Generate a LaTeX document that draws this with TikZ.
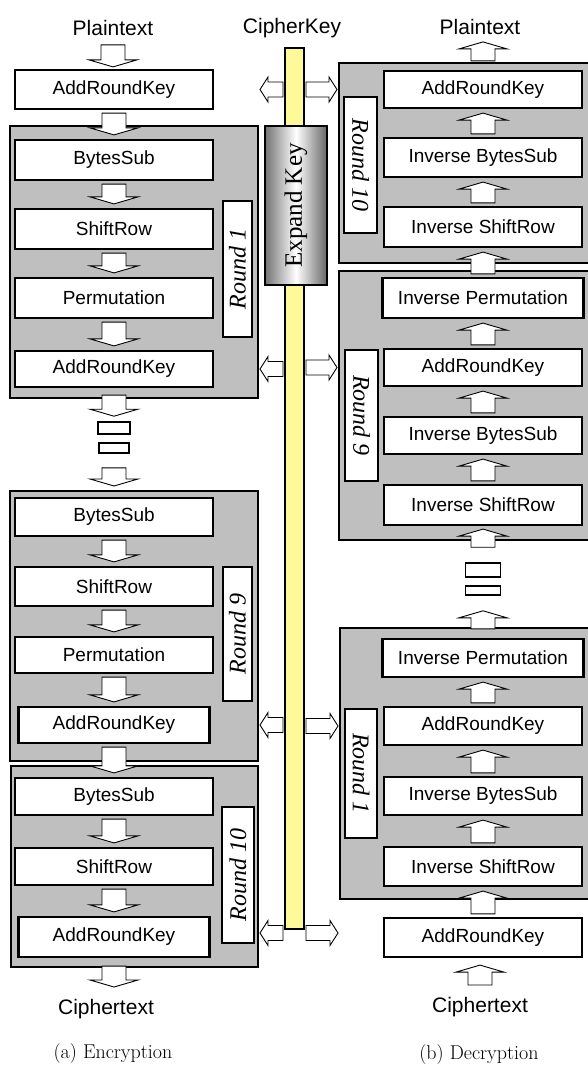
\documentclass[tikz,border=0pt]{standalone}
\usepackage{fontspec}
\setsansfont{Liberation Sans}
\newfontfamily\timesfont{Liberation Serif}
\usepackage{tikz}
\usetikzlibrary{positioning,calc}

\tikzset{
	stepbox/.style={draw, fill=white, line width=2.2pt, inner sep=0pt,
		minimum width=198pt, font=\sffamily\fontsize{19}{22}\selectfont},
	roundbox/.style={draw, fill=gray!50, line width=2pt, inner sep=0pt},
	roundtag/.style={draw, fill=white, line width=2pt, inner sep=0pt,
		font=\timesfont\itshape\fontsize{24}{26}\selectfont},
	dotbox/.style={draw, fill=white, line width=1.6pt, inner sep=0pt},
	iotext/.style={inner sep=2pt, font=\sffamily\fontsize{21}{24}\selectfont},
	captext/.style={inner sep=2pt, font=\fontsize{20}{24}\selectfont},
	fshaft/.store in=\fshaft, fhead/.store in=\fhead, flen/.store in=\flen,
	fgap/.store in=\fgap, tgap/.store in=\tgap,
	fshaft=12pt, fhead=24pt, flen=7pt, fgap=3pt, tgap=4pt,
	fatarrow/.style={draw=black, fill=white, line width=0.9pt,
		to path={
			($(\tikztostart)!\fgap!(\tikztotarget)!\fshaft!90:(\tikztotarget)$)
			-- ($(\tikztotarget)!\tgap+\flen!(\tikztostart)!\fshaft!90:(\tikztotarget)$)
			-- ($(\tikztotarget)!\tgap+\flen!(\tikztostart)!\fhead!90:(\tikztotarget)$)
			-- ($(\tikztotarget)!\tgap!(\tikztostart)$)
			-- ($(\tikztotarget)!\tgap+\flen!(\tikztostart)!\fhead!-90:(\tikztotarget)$)
			-- ($(\tikztotarget)!\tgap+\flen!(\tikztostart)!\fshaft!-90:(\tikztotarget)$)
			-- ($(\tikztostart)!\fgap!(\tikztotarget)!\fshaft!-90:(\tikztotarget)$)
			-- cycle}},
	keyarrow/.style={fatarrow, fshaft=7.5pt, fhead=12.5pt, flen=8pt, fgap=1pt, tgap=1pt}
}

\begin{document}
\begin{tikzpicture}[x=1pt, y=1pt]

\useasboundingbox (0, 0) rectangle (587, -1066);

% Round boxes (grey)
\node [roundbox, minimum width=248pt, minimum height=272pt] (enc_round_1) at (134, -262) {};
\node [roundbox, minimum width=248pt, minimum height=270pt] (enc_round_9) at (134, -626) {};
\node [roundbox, minimum width=247pt, minimum height=201pt] (enc_round_10) at (134.5, -866.5) {};
\node [roundbox, minimum width=251pt, minimum height=200pt] (dec_round_10) at (464.5, -163) {};
\node [roundbox, minimum width=251pt, minimum height=269pt] (dec_round_9) at (464.5, -405.5) {};
\node [roundbox, minimum width=250pt, minimum height=271pt] (dec_round_1) at (465, -763.5) {};

% Encryption
\node [iotext] (plaintext_in) at (113, -28) {Plaintext};
\node [stepbox, minimum height=39pt] (enc_addroundkey_0) at (114, -89.5) {AddRoundKey};

% Encryption round 1
\node [stepbox, minimum height=40pt] (enc_bytessub_1) at (114, -160) {BytesSub};
\node [stepbox, minimum height=40pt] (enc_shiftrow_1) at (114, -229) {ShiftRow};
\node [stepbox, minimum height=40pt] (enc_permutation_1) at (114, -298) {Permutation};
\node [stepbox, minimum height=36pt] (enc_addroundkey_1) at (114, -369) {AddRoundKey};
\node [roundtag, minimum width=29pt, minimum height=136pt] (enc_label_1) at (237.5, -269) {\rotatebox{90}{Round 1}};

% Dots
\node [dotbox, minimum width=32pt, minimum height=12pt] (enc_dots_a) at (114, -428) {};
\node [dotbox, minimum width=30pt, minimum height=10pt] (enc_dots_b) at (114, -448) {};

% Encryption round 9
\node [stepbox, minimum height=38pt] (enc_bytessub_9) at (114, -517) {BytesSub};
\node [stepbox, minimum height=39pt] (enc_shiftrow_9) at (114, -586.5) {ShiftRow};
\node [stepbox, minimum height=36pt] (enc_permutation_9) at (114, -655) {Permutation};
\node [stepbox, minimum width=191pt, minimum height=36pt] (enc_addroundkey_9) at (114, -725) {AddRoundKey};
\node [roundtag, minimum width=29pt, minimum height=134pt] (enc_label_9) at (237.5, -634) {\rotatebox{90}{Round 9}};

% Encryption round 10
\node [stepbox, minimum height=37pt] (enc_bytessub_10) at (114, -796.5) {BytesSub};
\node [stepbox, minimum height=37pt] (enc_shiftrow_10) at (114, -866.5) {ShiftRow};
\node [stepbox, minimum width=191pt, minimum height=40pt] (enc_addroundkey_10) at (114, -937) {AddRoundKey};
\node [roundtag, minimum width=32pt, minimum height=136pt] (enc_label_10) at (238, -875) {\rotatebox{90}{Round 10}};

\node [iotext] (ciphertext_out) at (106, -1009) {Ciphertext};
\node [captext] (caption_enc) at (113, -1053) {(a) Encryption};

% Key schedule
\node [iotext] (cipher_key) at (292, -28) {CipherKey};
\node [draw, line width=2pt, fill=yellow!40, inner sep=0pt,
	minimum width=19pt, minimum height=881pt
] (key_bar) at (294.5, -488.5) {};
\node [draw, line width=2pt, inner sep=0pt,
	left color=black!55, right color=black!60, middle color=white,
	minimum width=62pt, minimum height=159pt,
	font=\timesfont\fontsize{25}{27}\selectfont
] (expand_key) at (296, -205.5) {\rotatebox{90}{Expand Key}};

% Decryption round 10
\node [iotext] (plaintext_out) at (480, -27) {Plaintext};
\node [stepbox, minimum height=37pt] (dec_addroundkey_10) at (483, -89.5) {AddRoundKey};
\node [stepbox, minimum height=39pt] (dec_bytessub_10) at (483, -157.5) {Inverse BytesSub};
\node [stepbox, minimum height=40pt] (dec_shiftrow_10) at (483, -227) {Inverse ShiftRow};
\node [roundtag, minimum width=33pt, minimum height=136pt] (dec_label_10) at (360.5, -165) {\rotatebox{-90}{Round 10}};

% Decryption round 9
\node [stepbox, minimum width=201pt, minimum height=40pt] (dec_permutation_9) at (483, -298) {Inverse Permutation};
\node [stepbox, minimum height=37pt] (dec_addroundkey_9) at (483, -367.5) {AddRoundKey};
\node [stepbox, minimum height=37pt] (dec_bytessub_9) at (483, -435.5) {Inverse BytesSub};
\node [stepbox, minimum height=40pt] (dec_shiftrow_9) at (483, -505) {Inverse ShiftRow};
\node [roundtag, minimum width=33pt, minimum height=131pt] (dec_label_9) at (361.5, -415.5) {\rotatebox{-90}{Round 9}};

% Dots
\node [dotbox, minimum width=35pt, minimum height=14pt] (dec_dots_a) at (483, -570) {};
\node [dotbox, minimum width=35pt, minimum height=9pt] (dec_dots_b) at (483, -590.5) {};

% Decryption round 1
\node [stepbox, minimum width=201pt, minimum height=38pt] (dec_permutation_1) at (483, -658) {Inverse Permutation};
\node [stepbox, minimum height=38pt] (dec_addroundkey_1) at (483, -726) {AddRoundKey};
\node [stepbox, minimum height=38pt] (dec_bytessub_1) at (483, -796) {Inverse BytesSub};
\node [stepbox, minimum height=39pt] (dec_shiftrow_1) at (483, -866.5) {Inverse ShiftRow};
\node [roundtag, minimum width=32pt, minimum height=129pt] (dec_label_1) at (361, -773.5) {\rotatebox{-90}{Round 1}};

\node [stepbox, minimum height=39pt] (dec_addroundkey_0) at (483, -937.5) {AddRoundKey};
\node [iotext] (ciphertext_in) at (480, -1007) {Ciphertext};
\node [captext] (caption_dec) at (479, -1054) {(b) Decryption};

% Arrows, encryption
\draw [fatarrow, fgap=7pt, tgap=2pt] (plaintext_in.south) to (plaintext_in.south |- enc_addroundkey_0.north);
\draw [fatarrow] (enc_addroundkey_0.south) to (enc_bytessub_1.north);
\draw [fatarrow] (enc_bytessub_1.south) to (enc_shiftrow_1.north);
\draw [fatarrow] (enc_shiftrow_1.south) to (enc_permutation_1.north);
\draw [fatarrow] (enc_permutation_1.south) to (enc_addroundkey_1.north);
\draw [fatarrow, fgap=7pt, tgap=5pt] (enc_addroundkey_1.south) to (enc_dots_a.north);
\draw [fatarrow, fgap=14pt, tgap=4pt] (enc_dots_b.south) to (enc_dots_b.south |- enc_round_9.north);
\draw [fatarrow] (enc_bytessub_9.south) to (enc_shiftrow_9.north);
\draw [fatarrow] (enc_shiftrow_9.south) to (enc_permutation_9.north);
\draw [fatarrow] (enc_permutation_9.south) to (enc_addroundkey_9.north);
\draw [fatarrow] (enc_addroundkey_9.south) to (enc_bytessub_10.north);
\draw [fatarrow] (enc_bytessub_10.south) to (enc_shiftrow_10.north);
\draw [fatarrow] (enc_shiftrow_10.south) to (enc_addroundkey_10.north);
\draw [fatarrow, fgap=8pt, tgap=10pt] (enc_addroundkey_10.south) to (enc_addroundkey_10.south |- ciphertext_out.north);

% Arrows, decryption
\draw [fatarrow, fgap=10pt, tgap=7pt] (ciphertext_in.north) to (ciphertext_in.north |- dec_addroundkey_0.south);
\draw [fatarrow] (dec_addroundkey_0.north) to (dec_shiftrow_1.south);
\draw [fatarrow] (dec_shiftrow_1.north) to (dec_bytessub_1.south);
\draw [fatarrow] (dec_bytessub_1.north) to (dec_addroundkey_1.south);
\draw [fatarrow] (dec_addroundkey_1.north) to (dec_permutation_1.south);
\draw [fatarrow, fgap=9pt, tgap=15pt] (dec_permutation_1.north) to (dec_dots_b.south);
\draw [fatarrow, fgap=15pt, tgap=3pt] (dec_dots_a.north) to (dec_shiftrow_9.south);
\draw [fatarrow] (dec_shiftrow_9.north) to (dec_bytessub_9.south);
\draw [fatarrow] (dec_bytessub_9.north) to (dec_addroundkey_9.south);
\draw [fatarrow] (dec_addroundkey_9.north) to (dec_permutation_9.south);
\draw [fatarrow] (dec_permutation_9.north) to (dec_shiftrow_10.south);
\draw [fatarrow] (dec_shiftrow_10.north) to (dec_bytessub_10.south);
\draw [fatarrow] (dec_bytessub_10.north) to (dec_addroundkey_10.south);
\draw [fatarrow, fgap=9pt, tgap=5pt] (dec_addroundkey_10.north) to (dec_addroundkey_10.north |- plaintext_out.south);

% Round keys
\coordinate (key_foot_w) at ([yshift=-3pt]key_bar.south west);
\coordinate (key_foot_e) at ([yshift=-3pt]key_bar.south east);
\draw [keyarrow] (key_bar.west |- enc_addroundkey_0) to (enc_round_1.east |- enc_addroundkey_0);
\draw [keyarrow] (key_bar.east |- dec_addroundkey_10) to (dec_round_10.west |- dec_addroundkey_10);
\draw [keyarrow] (key_bar.west |- enc_addroundkey_1) to (enc_round_1.east |- enc_addroundkey_1);
\draw [keyarrow] (key_bar.east |- dec_addroundkey_9) to (dec_round_9.west |- dec_addroundkey_9);
\draw [keyarrow] (key_bar.west |- enc_addroundkey_9) to (enc_round_9.east |- enc_addroundkey_9);
\draw [keyarrow] (key_bar.east |- dec_addroundkey_1) to (dec_round_1.west |- dec_addroundkey_1);
\draw [keyarrow] (key_foot_w) to (key_foot_w -| enc_round_10.east);
\draw [keyarrow] (key_foot_e) to (key_foot_e -| dec_round_1.west);

\end{tikzpicture}
\end{document}
